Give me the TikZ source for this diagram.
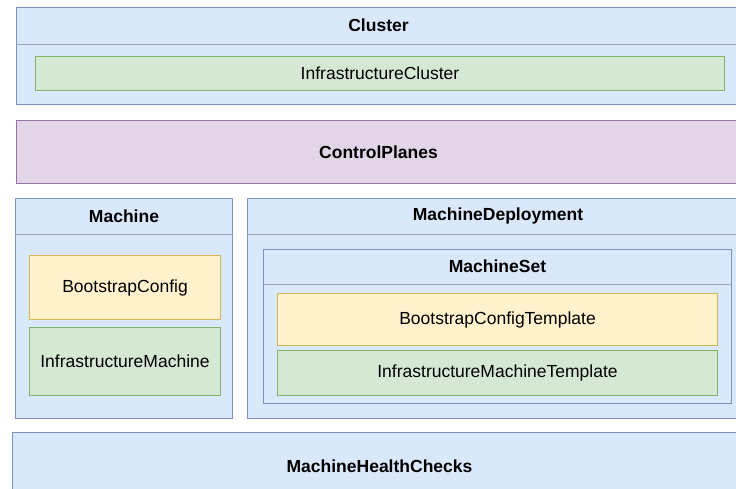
\documentclass[tikz,border=0pt]{standalone}
\usepackage{fontspec}
\setmainfont{Liberation Sans}

\definecolor{lanefill}{HTML}{DAE8FC}
\definecolor{laneline}{HTML}{7C93BF}
\definecolor{headline}{HTML}{9AA3B5}
\definecolor{cfgfill}{HTML}{FFF2CC}
\definecolor{cfgline}{HTML}{D6B656}
\definecolor{infrafill}{HTML}{D5E8D4}
\definecolor{infraline}{HTML}{82B366}
\definecolor{planefill}{HTML}{E1D5E7}
\definecolor{planeline}{HTML}{9673A6}

\begin{document}
\begin{tikzpicture}[x=1pt, y=-1pt, font=\fontsize{17.5}{21}\selectfont]
    \tikzstyle{box} = [rectangle, draw, line width=1pt, anchor=north west, inner sep=0pt, text centered]
    \tikzstyle{lane} = [box, draw=laneline, fill=lanefill]
    \tikzstyle{head} = [box, draw=none, font=\fontsize{17.5}{21}\selectfont\bfseries]
    \tikzstyle{config} = [box, draw=cfgline, fill=cfgfill]
    \tikzstyle{infra} = [box, draw=infraline, fill=infrafill]
    \tikzstyle{plane} = [box, draw=planeline, fill=planefill, font=\fontsize{17.5}{21}\selectfont\bfseries]
    \tikzstyle{divider} = [draw=headline, line width=1pt]

    \useasboundingbox (0,0) rectangle (736,488);
    \clip (0,0) rectangle (736,488);

    % cluster
    \node [lane, minimum width=724pt, minimum height=97pt] (cluster) at (16,7) {};
    \node [head, minimum width=724pt, minimum height=36pt] (clusterhead) at (16,7) {Cluster};
    \path [divider] (clusterhead.south west) -- (clusterhead.south east);
    \node [infra, minimum width=689pt, minimum height=34pt] (infracluster) at (35,56) {InfrastructureCluster};

    % control planes
    \node [plane, minimum width=724pt, minimum height=63pt] (controlplanes) at (16,120) {ControlPlanes};

    % machine
    \node [lane, minimum width=217pt, minimum height=220pt] (machine) at (15,198) {};
    \node [head, minimum width=217pt, minimum height=35pt] (machinehead) at (15,198) {Machine};
    \path [divider] (machinehead.south west) -- (machinehead.south east);
    \node [config, minimum width=191pt, minimum height=64pt] (bootstrap) at (29,255) {BootstrapConfig};
    \node [infra, minimum width=191pt, minimum height=68pt] (inframachine) at (29,327) {InfrastructureMachine};

    % machine deployment
    \node [lane, minimum width=501pt, minimum height=220pt] (deployment) at (247,198) {};
    \node [head, minimum width=501pt, minimum height=35pt] (deploymenthead) at (247,198) {MachineDeployment};
    \path [divider] (deploymenthead.south west) -- (deploymenthead.south east);
    \node [lane, minimum width=468pt, minimum height=154pt] (machineset) at (263,249) {};
    \node [head, minimum width=468pt, minimum height=34pt] (machinesethead) at (263,249) {MachineSet};
    \path [divider] (machinesethead.south west) -- (machinesethead.south east);
    \node [config, minimum width=440pt, minimum height=52pt] (bootstraptpl) at (277,293) {BootstrapConfigTemplate};
    \node [infra, minimum width=440pt, minimum height=45pt] (inframachinetpl) at (277,350) {InfrastructureMachineTemplate};

    % health checks
    \node [lane, minimum width=734pt, minimum height=68pt, font=\fontsize{17.5}{21}\selectfont\bfseries] (healthchecks) at (12,432) {MachineHealthChecks};
\end{tikzpicture}
\end{document}
